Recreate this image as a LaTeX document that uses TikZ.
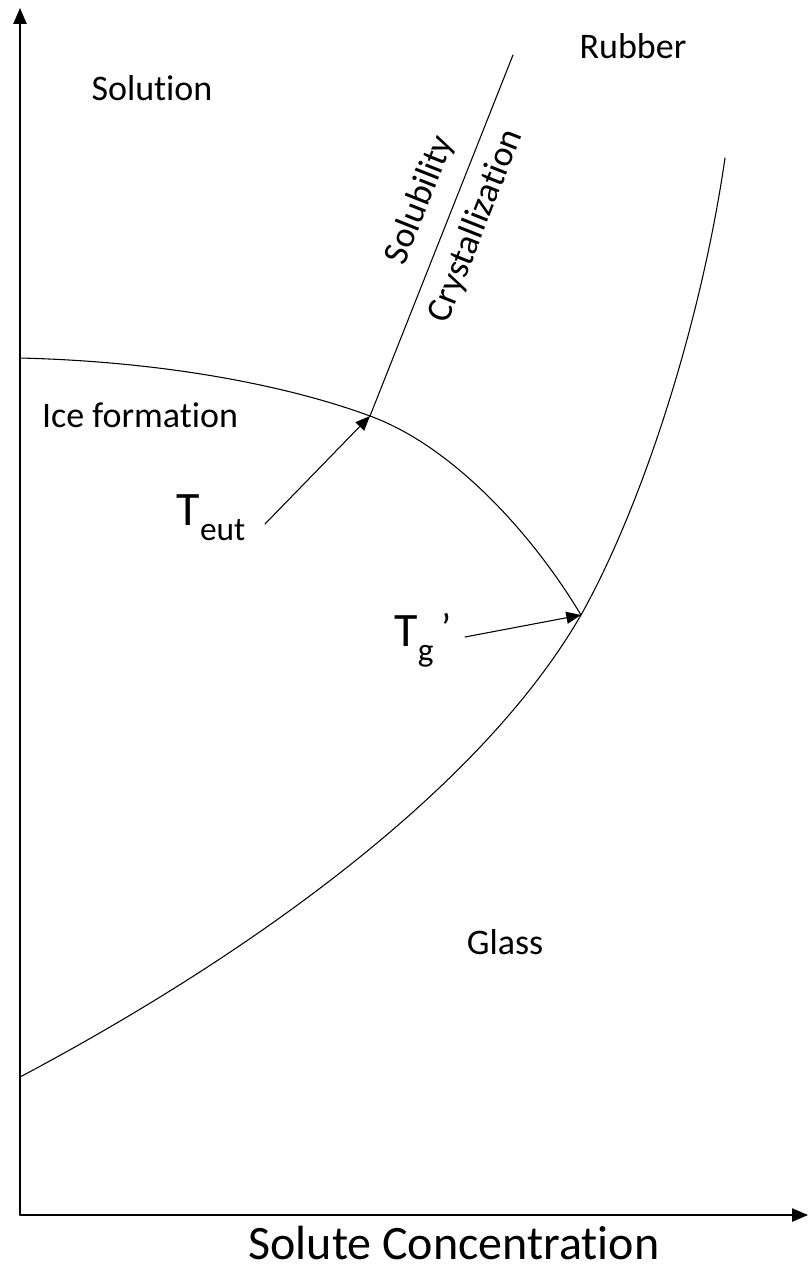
\documentclass[tikz,border=0pt]{standalone}
\usepackage{fontspec}
\setmainfont[Ligatures=NoCommon]{Carlito}
\usetikzlibrary{arrows.meta}
\newcommand{\lowpart}[1]{\raisebox{-11pt}{\fontsize{25}{25}\selectfont #1}}

\begin{document}
\begin{tikzpicture}[x=0.75pt,y=-0.75pt,line join=round,line cap=round,
	>={Triangle[length=11pt,width=9pt]},font=\fontsize{27}{32}\selectfont,
	axis/.style={line width=1.1pt,-{Triangle[length=12pt,width=10pt]}},
	curve/.style={line width=0.8pt}]
	\useasboundingbox (0,0) rectangle (808,1266);
	% axes
	\coordinate (O) at (20,1215);
	\coordinate (ytop) at (20,8);
	\coordinate (xend) at (808,1215);
	\draw[axis] (O)--(ytop);
	\draw[axis] (O)--(xend);
	\node[inner sep=0pt] (xlab) at (454,1243) {\fontsize{36}{40}\selectfont Solute Concentration};
	% key points
	\coordinate (eut) at (370,416);
	\coordinate (tg) at (581,615);
	\coordinate (ice0) at (20,358);
	\coordinate (gl0) at (20,1077);
	\coordinate (gl1) at (725,158);
	\coordinate (sol1) at (513,55);
	% curves
	\draw[curve] (ice0) .. controls (180,362) and (300,390) .. (eut)
		.. controls (450,445) and (530,530) .. (tg);
	\draw[curve] (gl0) .. controls (250,955) and (480,790) .. (tg)
		.. controls (640,510) and (700,330) .. (gl1);
	\draw[curve] (eut)--(sol1);
	% regions
	\node (solution) at (152,88) {Solution};
	\node (rubber) at (633,46) {Rubber};
	\node (ice) at (140,415) {Ice formation};
	\node (glass) at (505,942) {Glass};
	\node[rotate=68.4,inner sep=0pt] (solub) at (420,200) {Solubility};
	\node[rotate=68.4,inner sep=0pt] (cryst) at (476,226) {Crystallization};
	% temperatures
	\node (teut) at (211,518) {\fontsize{36}{40}\selectfont T\lowpart{eut}};
	\node (tgp) at (423,640) {\fontsize{36}{40}\selectfont T\lowpart{g}\,\raisebox{4pt}{\fontsize{30}{30}\selectfont ’}};
	\coordinate (teuttail) at (265,524);
	\coordinate (tgtail) at (465,637);
	\draw[curve,->] (teuttail)--(eut);
	\draw[curve,->] (tgtail)--(tg);
\end{tikzpicture}
\end{document}
